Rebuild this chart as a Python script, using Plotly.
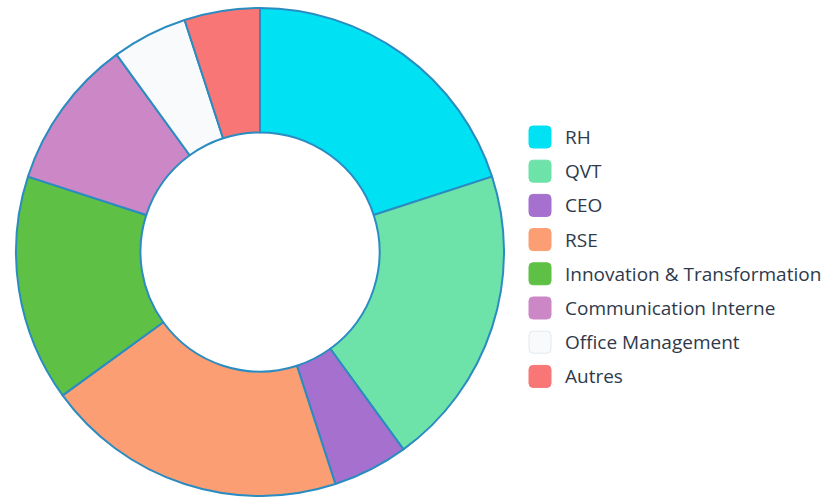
import plotly.graph_objects as go

labels = ["RH", "QVT", "CEO", "RSE", "Innovation & Transformation",
          "Communication Interne", "Office Management", "Autres"]
values = [20, 20, 5, 20, 15, 10, 5, 5]
colors = ["#00E1F3", "#6DE2A9", "#A570CE", "#FC9E74", "#5EC145",
          "#CC87C6", "#F8FAFC", "#F97676"]

W, H = 829, 498
fig = go.Figure()
fig.add_trace(go.Pie(
    labels=labels, values=values, sort=False, direction="clockwise",
    rotation=0, hole=0.49, textinfo="none", hoverinfo="label+percent",
    marker=dict(colors=colors, line=dict(color="#2A8CC0", width=2)),
    domain=dict(x=[16 / W, 504 / W], y=[2 / H, 490 / H]),
    showlegend=False,
))

# custom legend
shapes, annotations = [], []
y0, step = 137, 34.2
r = 4
s = 11
for i, (lab, col) in enumerate(zip(labels, colors)):
    yc = y0 + i * step
    path = (f"M{-s + r},{-s} L{s - r},{-s} Q{s},{-s} {s},{-s + r} "
            f"L{s},{s - r} Q{s},{s} {s - r},{s} L{-s + r},{s} "
            f"Q{-s},{s} {-s},{s - r} L{-s},{-s + r} Q{-s},{-s} {-s + r},{-s} Z")
    shapes.append(dict(type="path", xref="paper", yref="paper",
                       xsizemode="pixel", ysizemode="pixel",
                       xanchor=540 / W, yanchor=1 - yc / H, path=path,
                       fillcolor=col,
                       line=dict(width=1, color="rgba(215,225,235,0.7)" if col == "#F8FAFC" else col)))
    annotations.append(dict(x=563 / W, y=1 - yc / H, xref="paper", yref="paper",
                            text=lab, showarrow=False, xanchor="left", yanchor="middle",
                            font=dict(family="Open Sans", size=19, color="#2E3A4B")))

fig.update_layout(
    width=W, height=H, margin=dict(l=0, r=0, t=0, b=0),
    paper_bgcolor="white", plot_bgcolor="white",
    shapes=shapes, annotations=annotations,
)
fig.write_html("out.html")
